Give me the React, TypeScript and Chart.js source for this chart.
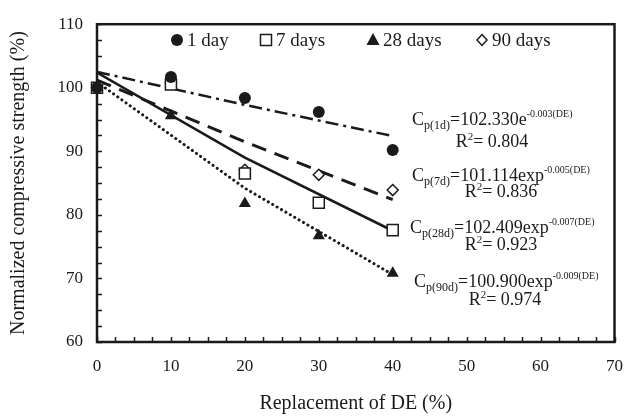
import React, { useEffect, useRef } from 'react';
import { Chart, registerables } from 'chart.js';

Chart.register(...registerables);

// ---------- data ----------
const replacement = [0, 10, 20, 30, 40];
const day1 = [100, 101.7, 98.4, 96.2, 90.2];
const day7 = [100, 100.5, 86.5, 81.9, 77.6];
const day28 = [100, 95.6, 81.8, 76.7, 70.8];
const day90 = [100, 100.8, 87.1, 86.3, 83.9];

const trendX = [0, 20, 40];
const trendDashDot = [102.5, 97.3, 92.4];
const trendDashed = [101.2, 91.5, 82.4];
const trendSolid = [102.4, 89.0, 77.5];
const trendDotted = [100.9, 84.2, 70.6];

const legendLabels = ['1 day', '7 days', '28 days', '90 days'];
const eqSubs = ['p(1d)', 'p(7d)', 'p(28d)', 'p(90d)'];
const eqMains = ['=102.330e', '=101.114exp', '=102.409exp', '=100.900exp'];
const eqSups = ['-0.003(DE)', '-0.005(DE)', '-0.007(DE)', '-0.009(DE)'];
const eqR2 = ['0.804', '0.836', '0.923', '0.974'];

const xTitle = 'Replacement of DE (%)';
const yTitle = 'Normalized compressive strength (%)';

const FONT = '"Liberation Serif", "Times New Roman", serif';
const INK = '#1a1a1a';

const pts = (xs: number[], ys: number[]) => xs.map((x, i) => ({ x, y: ys[i] }));

function drawSymbol(ctx: CanvasRenderingContext2D, kind: number, x: number, y: number) {
  ctx.save();
  ctx.fillStyle = INK;
  ctx.strokeStyle = INK;
  ctx.lineWidth = 1.5;
  ctx.beginPath();
  if (kind === 0) {
    ctx.arc(x, y, 6, 0, Math.PI * 2);
    ctx.fill();
  } else if (kind === 1) {
    ctx.fillStyle = '#fff';
    ctx.rect(x - 5.5, y - 5.5, 11, 11);
    ctx.fill();
    ctx.stroke();
  } else if (kind === 2) {
    ctx.moveTo(x, y - 7);
    ctx.lineTo(x + 6.5, y + 5);
    ctx.lineTo(x - 6.5, y + 5);
    ctx.closePath();
    ctx.fill();
  } else {
    ctx.fillStyle = '#fff';
    ctx.moveTo(x, y - 5.5);
    ctx.lineTo(x + 5, y);
    ctx.lineTo(x, y + 5.5);
    ctx.lineTo(x - 5, y);
    ctx.closePath();
    ctx.fill();
    ctx.stroke();
  }
  ctx.restore();
}

type Seg = { t: string; size: number; dy: number };

function drawRich(ctx: CanvasRenderingContext2D, segs: Seg[], x: number, y: number, align: 'left' | 'center') {
  ctx.save();
  ctx.fillStyle = INK;
  ctx.textBaseline = 'alphabetic';
  ctx.textAlign = 'left';
  let total = 0;
  const widths = segs.map((s) => {
    ctx.font = `${s.size}px ${FONT}`;
    const w = ctx.measureText(s.t).width;
    total += w;
    return w;
  });
  let cx = align === 'center' ? x - total / 2 : x;
  segs.forEach((s, i) => {
    ctx.font = `${s.size}px ${FONT}`;
    ctx.fillText(s.t, cx, y + s.dy);
    cx += widths[i];
  });
  ctx.restore();
}

const decorPlugin = {
  id: 'decor',
  beforeDatasetsDraw(chart: any) {
    const { ctx, chartArea: a } = chart;
    const xs = chart.scales.x;
    const ys = chart.scales.y;
    ctx.save();
    ctx.strokeStyle = INK;
    ctx.lineWidth = 1.5;
    ctx.beginPath();
    xs.ticks.forEach((t: any) => {
      const px = Math.round(xs.getPixelForValue(t.value)) + 0.5;
      ctx.moveTo(px, a.bottom);
      ctx.lineTo(px, a.bottom - 5);
    });
    ys.ticks.forEach((t: any) => {
      const py = Math.round(ys.getPixelForValue(t.value)) + 0.5;
      ctx.moveTo(a.left, py);
      ctx.lineTo(a.left + 5, py);
    });
    ctx.stroke();
    ctx.lineWidth = 2.5;
    ctx.strokeRect(a.left, a.top, a.right - a.left, a.bottom - a.top);
    ctx.restore();
  },
  afterDraw(chart: any) {
    const { ctx } = chart;
    // legend
    const symX = [177, 266, 373, 482];
    const legY = 40;
    legendLabels.forEach((lab, i) => {
      drawSymbol(ctx, i, symX[i], legY);
      ctx.save();
      ctx.fillStyle = INK;
      ctx.font = `19px ${FONT}`;
      ctx.textBaseline = 'middle';
      ctx.textAlign = 'left';
      ctx.fillText(lab, symX[i] + 10, legY + 1);
      ctx.restore();
    });
    // equations
    const eqX = [412, 412, 410, 414];
    const eqY = [125, 181, 233, 287];
    const r2X = [492, 501, 501, 505];
    const r2Y = [147, 197, 250, 305];
    for (let i = 0; i < 4; i++) {
      drawRich(
        ctx,
        [
          { t: 'C', size: 18, dy: 0 },
          { t: eqSubs[i], size: 12, dy: 4 },
          { t: eqMains[i], size: 18, dy: 0 },
          { t: eqSups[i], size: 10, dy: -8 },
        ],
        eqX[i],
        eqY[i],
        'left'
      );
      drawRich(
        ctx,
        [
          { t: 'R', size: 18, dy: 0 },
          { t: '2', size: 11, dy: -7 },
          { t: '= ' + eqR2[i], size: 18, dy: 0 },
        ],
        r2X[i],
        r2Y[i],
        'center'
      );
    }
  },
};

export default function App() {
  const ref = useRef<HTMLCanvasElement | null>(null);

  useEffect(() => {
    document.body.style.margin = '0';
    const canvas = ref.current;
    if (!canvas) return;

    const lineDs = (ys: number[], dash: number[], width: number, cap: CanvasLineCap = 'butt') => ({
      type: 'scatter' as const,
      data: pts(trendX, ys),
      showLine: true,
      pointRadius: 0,
      borderColor: INK,
      borderWidth: width,
      borderDash: dash,
      borderCapStyle: cap,
      fill: false,
      order: 2,
    });

    const chart = new Chart(canvas, {
      type: 'scatter',
      data: {
        datasets: [
          {
            label: legendLabels[0],
            data: pts(replacement, day1),
            pointStyle: 'circle',
            pointRadius: 6,
            backgroundColor: INK,
            borderColor: INK,
            borderWidth: 0,
            clip: false,
            order: 1,
          } as any,
          {
            label: legendLabels[1],
            data: pts(replacement, day7),
            pointStyle: 'rect',
            pointRadius: 7.8,
            backgroundColor: '#fff',
            borderColor: INK,
            borderWidth: 1.5,
            clip: false,
            order: 1,
          },
          {
            label: legendLabels[2],
            data: pts(replacement, day28),
            pointStyle: 'triangle',
            pointRadius: 7,
            backgroundColor: INK,
            borderColor: INK,
            borderWidth: 0,
            clip: false,
            order: 1,
          },
          {
            label: legendLabels[3],
            data: pts(replacement, day90),
            pointStyle: 'rectRot',
            pointRadius: 5.5,
            backgroundColor: '#fff',
            borderColor: INK,
            borderWidth: 1.5,
            clip: false,
            order: 1,
          },
          lineDs(trendDashDot, [13, 5, 3, 5], 2.5),
          lineDs(trendDashed, [15, 9], 3),
          lineDs(trendSolid, [], 2.6),
          lineDs(trendDotted, [0.1, 5], 3, 'round'),
        ] as any,
      },
      options: {
        animation: false,
        responsive: false,
        maintainAspectRatio: false,
        layout: { padding: { top: 16, right: 18, left: 0, bottom: 0 } },
        plugins: {
          legend: { display: false },
          tooltip: { enabled: false },
        },
        scales: {
          x: {
            type: 'linear',
            min: 0,
            max: 70,
            ticks: {
              stepSize: 2.5,
              autoSkip: false,
              maxRotation: 0,
              padding: 14,
              color: INK,
              font: { family: FONT, size: 17 },
              callback: (v: any) => (Number(v) % 10 === 0 ? String(v) : ''),
            },
            grid: { display: false, drawTicks: false },
            border: { display: false },
            title: {
              display: true,
              text: xTitle,
              color: INK,
              font: { family: FONT, size: 20 },
              padding: { top: 4, bottom: 4 },
            },
            afterFit: (s: any) => {
              s.height = 78;
            },
          },
          y: {
            type: 'linear',
            min: 60,
            max: 110,
            ticks: {
              stepSize: 2.5,
              autoSkip: false,
              padding: 14,
              color: INK,
              font: { family: FONT, size: 17 },
              callback: (v: any) => (Number(v) % 10 === 0 ? String(v) : ''),
            },
            grid: { display: false, drawTicks: false },
            border: { display: false },
            title: {
              display: true,
              text: yTitle,
              color: INK,
              font: { family: FONT, size: 20 },
              padding: { top: 7, bottom: 7 },
            },
            afterFit: (s: any) => {
              s.width = 97;
            },
          },
        },
      },
      plugins: [decorPlugin],
    });

    return () => chart.destroy();
  }, []);

  return (
    <div style={{ width: 637, height: 420, background: '#fff' }}>
      <canvas ref={ref} width={637} height={420} style={{ display: 'block' }} />
    </div>
  );
}
